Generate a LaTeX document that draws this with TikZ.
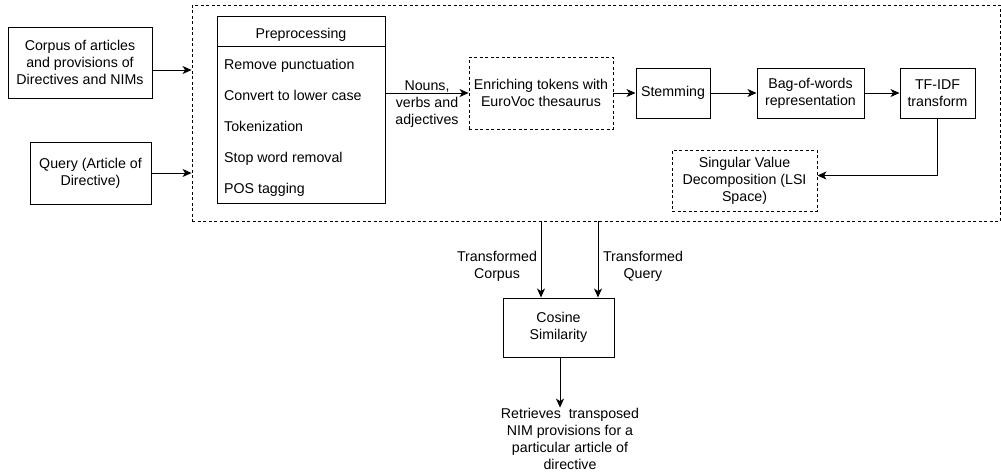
\documentclass[tikz,border=0pt]{standalone}
\usepackage{fontspec}
\setmainfont{Liberation Sans}
\usetikzlibrary{arrows.meta}
\begin{document}
\begin{tikzpicture}[x=1pt,y=-1pt,
  every node/.style={font=\fontsize{14.2}{17}\selectfont, inner sep=0pt, align=center},
  box/.style={draw, line width=1pt},
  dbox/.style={draw, line width=0.9pt, dash pattern=on 3pt off 2.5pt},
  arr/.style={line width=1pt, -{Stealth[length=9pt,width=8pt,inset=2.5pt]}},
  lbl/.style={align=left, anchor=west, text height=10.5pt, text depth=3pt}]
\useasboundingbox (0,0) rectangle (1001,475);
% outer dashed region
\node[dbox, minimum width=808pt, minimum height=216pt] (outer) at (596,113) {};
% inputs
\node[box, minimum width=144pt, minimum height=71pt] (corpus) at (80,62.5) {Corpus of articles\\and provisions of\\Directives and NIMs};
\node[box, minimum width=121pt, minimum height=62pt] (query) at (90.5,173) {Query (Article of\\Directive)};
% preprocessing
\node[box, minimum width=168pt, minimum height=187pt] (prepro) at (301,109.5) {};
\draw[line width=1pt] ([yshift=-31pt]prepro.north west) coordinate (hl) -- ([yshift=-31pt]prepro.north east) coordinate (hr);
\node (ptitle) at (301,35) {Preprocessing};
\node[lbl] (p1) at (224,65.5) {Remove punctuation};
\node[lbl] (p2) at (224,96.5) {Convert to lower case};
\node[lbl] (p3) at (224,127.5) {Tokenization};
\node[lbl] (p4) at (224,158.5) {Stop word removal};
\node[lbl] (p5) at (224,189.5) {POS tagging};
% pipeline
\node[dbox, minimum width=144pt, minimum height=72pt] (enrich) at (541,93) {Enriching tokens with\\EuroVoc thesaurus};
\node[box, minimum width=74pt, minimum height=50pt] (stem) at (673,93) {Stemming};
\node[box, minimum width=107pt, minimum height=50pt] (bow) at (810.5,93) {Bag-of-words\\representation};
\node[box, minimum width=75pt, minimum height=50pt] (tfidf) at (937.5,93) {TF-IDF\\transform};
\node[dbox, minimum width=145pt, minimum height=61pt] (svd) at (744.5,180.5) {Singular Value\\Decomposition (LSI\\Space)};
\node (nouns) at (427,104) {Nouns,\\verbs and\\adjectives};
% cosine
\node[box, minimum width=111pt, minimum height=59pt] (cos) at (558.5,327.5) {Cosine\\Similarity};
\node (tcorp) at (497,266.5) {Transformed\\Corpus};
\node (tquery) at (643,266.5) {Transformed\\Query};
\node (ret) at (570,438.5) {Retrieves\ \ transposed\\NIM provisions for a\\particular article of\\directive};
% connectors
\draw[arr] ([yshift=-7.5pt]corpus.east) -- ([yshift=-7.5pt]corpus.east -| outer.west);
\draw[arr] (query.east) -- (query.east -| outer.west);
\draw[arr] (prepro.east |- enrich.west) -- (enrich.west);
\draw[arr] (enrich.east) -- (stem.west);
\draw[arr] (stem.east) -- (bow.west);
\draw[arr] (bow.east) -- (tfidf.west);
\draw[arr] (tfidf.south) |- ([yshift=5pt]svd.east);
\draw[arr] (outer.south -| cos.north) ++(-17.5,0) coordinate (ca) -- ([xshift=-17.5pt]cos.north);
\draw[arr] (outer.south -| cos.north) ++(39.5,0) coordinate (cb) -- ([xshift=39.5pt]cos.north);
\draw[arr] ([xshift=1.5pt]cos.south) -- ([xshift=1.5pt]cos.south |- ret.north);
\end{tikzpicture}
\end{document}
